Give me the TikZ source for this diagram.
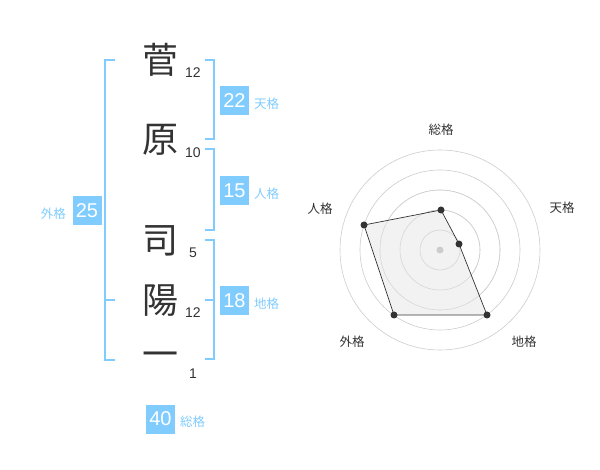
\documentclass[tikz,border=0pt]{standalone}
\usepackage{fontspec}
\setmainfont{Liberation Sans}
\newfontfamily\jpfont{Noto Sans CJK JP}
\usepackage{xcolor}
\definecolor{kakublue}{HTML}{80CCFF}
\definecolor{inkgray}{HTML}{333333}
\definecolor{ringgray}{HTML}{CCCCCC}
\definecolor{areagray}{HTML}{F0F0F0}
\tikzset{
  namechar/.style={text=inkgray, inner sep=0pt, font=\jpfont\fontsize{36}{36}\selectfont},
  strokenum/.style={text=inkgray, inner sep=0pt, font=\fontsize{14}{14}\selectfont},
  scorebox/.style={fill=kakublue, text=white, minimum size=29pt, inner sep=0pt, font=\fontsize{20}{20}\selectfont},
  kakulabel/.style={text=kakublue, inner sep=0pt, font=\jpfont\fontsize{12.5}{12.5}\selectfont},
  bracket/.style={draw=kakublue, line width=1.6pt},
  axislabel/.style={text=inkgray, inner sep=0pt, font=\jpfont\fontsize{12.5}{12.5}\selectfont},
  ring/.style={draw=ringgray, line width=0.6pt},
  vertex/.style={circle, fill=inkgray, inner sep=0pt, minimum size=7pt}
}
\begin{document}
\begin{tikzpicture}[x=1pt,y=-1pt]
    \useasboundingbox (0,0) rectangle (600,470);
    % name characters and stroke counts
    \node[namechar] (c1) at (160,60) {菅};
    \node[namechar] (c2) at (160,140) {原};
    \node[namechar] (c3) at (160,241) {司};
    \node[namechar] (c4) at (160,301) {陽};
    \node[namechar] (c5) at (160,360) {一};
    \node[strokenum] (n1) at (193,73) {12};
    \node[strokenum] (n2) at (193,153) {10};
    \node[strokenum] (n3) at (193,253) {5};
    \node[strokenum] (n4) at (193,313) {12};
    \node[strokenum] (n5) at (193,374) {1};
    % brackets
    \draw[bracket] (115,60) -- (105,60) -- (105,360) -- (115,360);
    \draw[bracket] (105,300) -- (115,300);
    \draw[bracket] (205,60) -- (214,60) -- (214,139) -- (205,139);
    \draw[bracket] (205,149) -- (214,149) -- (214,230) -- (205,230);
    \draw[bracket] (205,240) -- (214,240) -- (214,359) -- (205,359);
    \draw[bracket] (205,300) -- (214,300);
    % scores
    \node[scorebox] (ten) at (234.5,100.5) {22};
    \node[kakulabel, anchor=west] (tenl) at (254,104) {天格};
    \node[scorebox] (jin) at (234.5,190.5) {15};
    \node[kakulabel, anchor=west] (jinl) at (254,194) {人格};
    \node[scorebox] (chi) at (234.5,300.5) {18};
    \node[kakulabel, anchor=west] (chil) at (254,304) {地格};
    \node[scorebox] (gai) at (87,210.5) {25};
    \node[kakulabel, anchor=east] (gail) at (66,214) {外格};
    \node[scorebox] (sou) at (160.5,419) {40};
    \node[kakulabel, anchor=west] (soul) at (180,422) {総格};
    % radar chart
    \foreach \r in {20,40,60,80,100}
        \draw[ring] (440,250) circle (\r);
    \coordinate (psou) at (441,210);
    \coordinate (pten) at (459,244);
    \coordinate (pchi) at (487,315);
    \coordinate (pgai) at (394,315);
    \coordinate (pjin) at (364,225);
    \fill[areagray, opacity=0.85] (psou) -- (pten) -- (pchi) -- (pgai) -- (pjin) -- cycle;
    \foreach \r in {20,40,60}
        \draw[ring, opacity=0.6] (440,250) circle (\r);
    \draw[inkgray, line width=0.7pt] (psou) -- (pten) -- (pchi) -- (pgai) -- (pjin) -- cycle;
    \fill[ringgray] (440,250) circle (3.5);
    \foreach \p in {psou,pten,pchi,pgai,pjin}
        \node[vertex] at (\p) {};
    \node[axislabel] (asou) at (441,130) {総格};
    \node[axislabel] (aten) at (562,208) {天格};
    \node[axislabel] (achi) at (524,342) {地格};
    \node[axislabel] (agai) at (352,342) {外格};
    \node[axislabel] (ajin) at (320,209) {人格};
\end{tikzpicture}
\end{document}
